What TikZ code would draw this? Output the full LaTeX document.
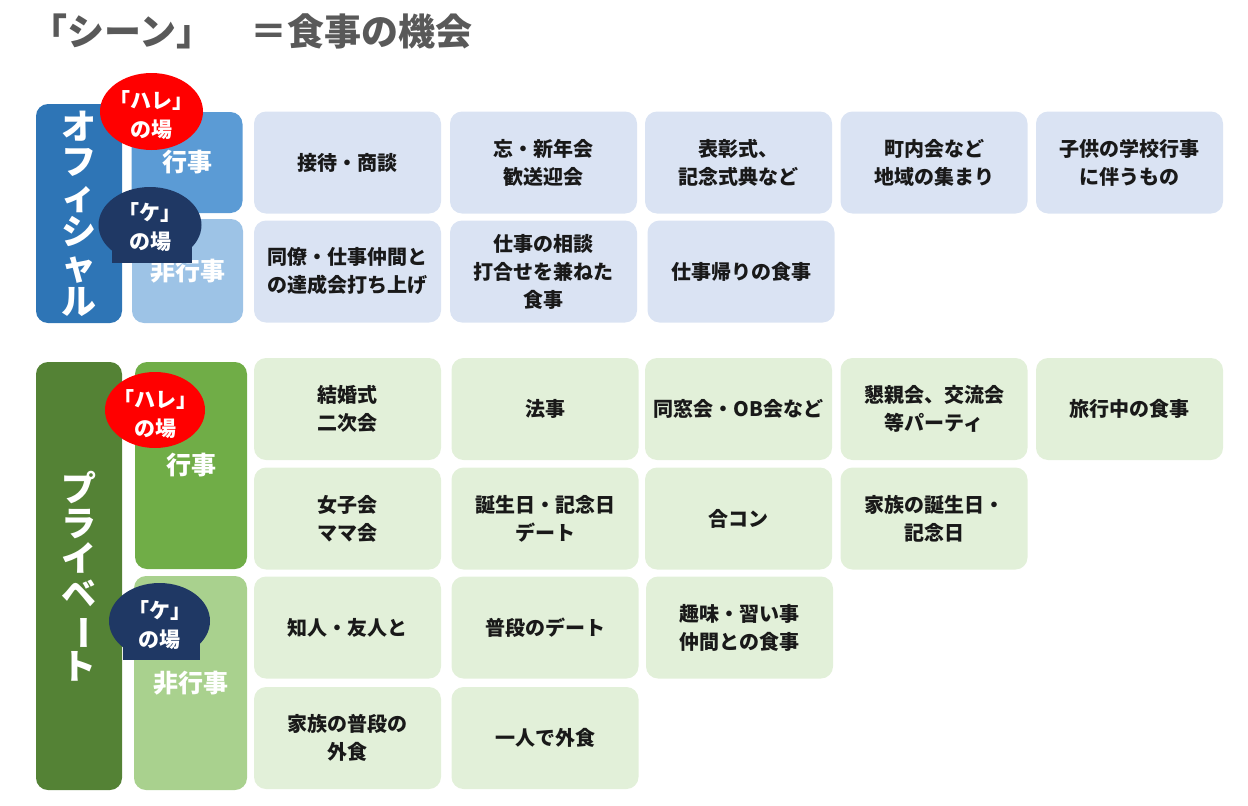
\documentclass[tikz,border=0pt]{standalone}
\usepackage{fontspec}
\setmainfont{Noto Sans CJK JP}
\usetikzlibrary{shapes.geometric}

\definecolor{offdark}{HTML}{2E75B6}
\definecolor{offmid}{HTML}{5B9BD5}
\definecolor{offpale}{HTML}{9DC3E6}
\definecolor{offlight}{HTML}{DAE3F3}
\definecolor{privdark}{HTML}{548235}
\definecolor{privmid}{HTML}{70AD47}
\definecolor{privpale}{HTML}{A9D18E}
\definecolor{privlight}{HTML}{E2F0D9}
\definecolor{kenavy}{HTML}{1F3864}
\definecolor{titlegray}{HTML}{595959}

\begin{document}
\begin{tikzpicture}[x=1pt, y=-1pt,
    cell/.style={rounded corners=12pt, minimum width=187pt, minimum height=102pt,
      inner sep=0pt, align=center, text=black!90, font=\bfseries\fontsize{20}{28}\selectfont},
    offcell/.style={cell, fill=offlight},
    privcell/.style={cell, fill=privlight},
    sidebox/.style={rounded corners=12pt, inner sep=0pt, align=center, text=white},
    bigside/.style={sidebox, minimum width=86pt, font=\bfseries\fontsize{35}{35}\selectfont},
    subside/.style={sidebox, font=\bfseries\fontsize{25}{30}\selectfont},
    hare/.style={ellipse, fill=red, inner sep=0pt, minimum width=103pt, minimum height=77pt},
    ke/.style={hare, fill=kenavy},
    batext/.style={inner sep=0pt, align=center, text=white, font=\bfseries\fontsize{21}{29}\selectfont}]
    \useasboundingbox (0,0) rectangle (1248,806);

    % Title
    \node (title) [anchor=west, text=titlegray, font=\bfseries\fontsize{37}{42}\selectfont]
      at (27,31) {「シーン」　＝食事の機会};

    % Official
    \node (off) [bigside, fill=offdark, minimum height=219pt] at (79,213.5)
      {オ\\フ\\ィ\\シ\\ャ\\ル};
    \node (offev) [subside, fill=offmid, minimum width=111pt, minimum height=101pt] at (187,162.5) {行事};
    \node (offnon) [subside, fill=offpale, minimum width=111pt, minimum height=104pt] at (187.5,271) {非行事};

    \node (o11) [offcell] at (347.5,162.5) {接待・商談};
    \node (o12) [offcell] at (543.5,162.5) {忘・新年会\\歓送迎会};
    \node (o13) [offcell] at (738.5,162.5) {表彰式、\\記念式典など};
    \node (o14) [offcell] at (934,162.5) {町内会など\\地域の集まり};
    \node (o15) [offcell] at (1129.5,162.5) {子供の学校行事\\に伴うもの};
    \node (o21) [offcell] at (347.5,271.5) {同僚・仕事仲間と\\の達成会打ち上げ};
    \node (o22) [offcell] at (543.5,271.5) {仕事の相談\\打合せを兼ねた\\食事};
    \node (o23) [offcell] at (741,271.5) {仕事帰りの食事};

    \node (offhare) [hare] at (151.5,111.5) {};
    \node (offharetext) [batext] at (151.5,115) {「ハレ」\\の場};
    \fill[kenavy] (112,225) rectangle (192,263);
    \node (offke) [ke, minimum width=103pt, minimum height=76pt] at (150,225) {};
    \node (offketext) [batext] at (150,227) {「ケ」\\の場};

    % Private
    \node (priv) [bigside, fill=privdark, minimum height=428pt] at (79,576)
      {プ\\ラ\\イ\\ベ\\\rotatebox[origin=c]{-90}{ー}\\ト};
    \node (privev) [subside, fill=privmid, minimum width=112pt, minimum height=207pt] at (191,465.5) {行事};
    \node (privnon) [subside, fill=privpale, minimum width=113pt, minimum height=214pt] at (190.5,683) {非行事};

    \node (p11) [privcell] at (347.5,409) {結婚式\\二次会};
    \node (p12) [privcell] at (545,409) {法事};
    \node (p13) [privcell] at (738.5,409) {同窓会・OB会など};
    \node (p14) [privcell] at (934,409) {懇親会、交流会\\等パーティ};
    \node (p15) [privcell] at (1129.5,409) {旅行中の食事};
    \node (p21) [privcell] at (347.5,518.5) {女子会\\ママ会};
    \node (p22) [privcell] at (545,518.5) {誕生日・記念日\\デート};
    \node (p23) [privcell] at (738.5,518.5) {合コン};
    \node (p24) [privcell] at (934,518.5) {家族の誕生日・\\記念日};
    \node (p31) [privcell] at (347.5,627.5) {知人・友人と};
    \node (p32) [privcell] at (545,627.5) {普段のデート};
    \node (p33) [privcell] at (739.5,627.5) {趣味・習い事\\仲間との食事};
    \node (p41) [privcell] at (347.5,738) {家族の普段の\\外食};
    \node (p42) [privcell] at (545,738) {一人で外食};

    \node (privhare) [hare, minimum width=100pt, minimum height=76pt] at (155,410) {};
    \node (privharetext) [batext] at (155,414) {「ハレ」\\の場};
    \fill[kenavy] (123,621) rectangle (200,660);
    \node (privke) [ke, minimum width=101pt, minimum height=76pt] at (159.5,621) {};
    \node (privketext) [batext] at (159.5,625) {「ケ」\\の場};
\end{tikzpicture}
\end{document}
